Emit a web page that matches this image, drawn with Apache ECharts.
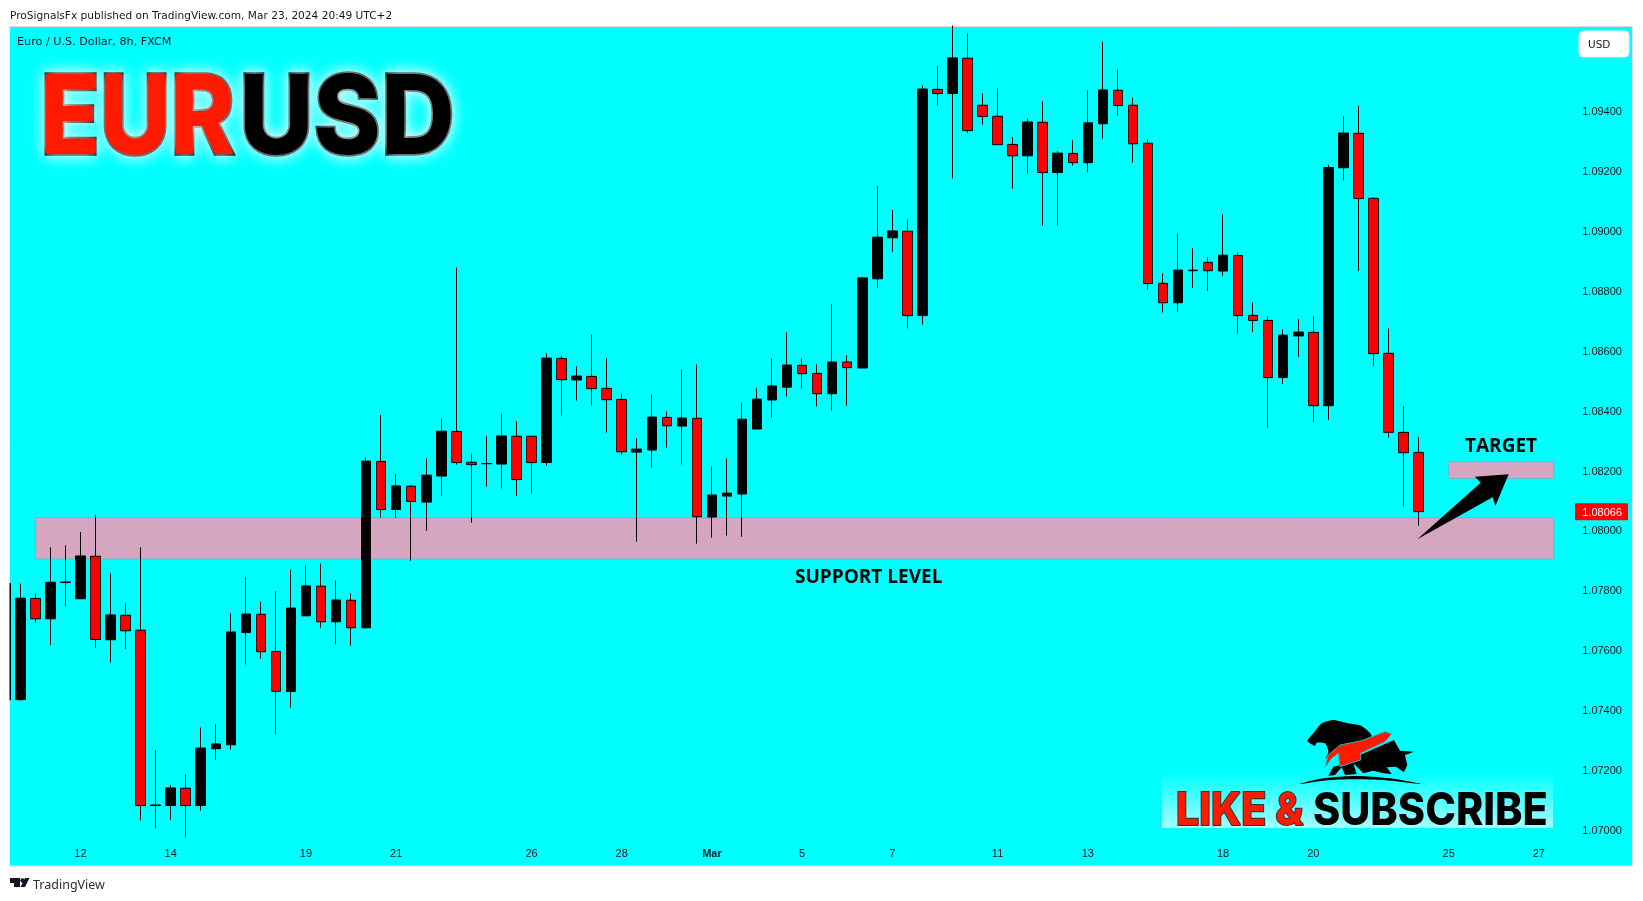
<!DOCTYPE html>
<html><head><meta charset="utf-8"><title>EURUSD</title>
<style>html,body{margin:0;padding:0;background:#fff}#c{width:1643px;height:901px}</style>
<script src="https://cdn.jsdelivr.net/npm/echarts@6/dist/echarts.min.js"></script></head>
<body><div id="c"></div>
<script>
const opens=[1.07437,1.07438,1.07776,1.07708,1.07829,1.07775,1.07917,1.07638,1.07720,1.07670,
1.07084,1.07084,1.07142,1.07084,1.07274,1.07287,1.07662,1.07723,1.07599,1.07465,
1.07718,1.07817,1.07698,1.07770,1.07678,1.08234,1.08073,1.08151,1.08098,1.08185,
1.08334,1.08231,1.08226,1.08225,1.08318,1.08318,1.08230,1.08578,1.08506,1.08518,
1.08478,1.08441,1.08265,1.08272,1.08381,1.08352,1.08378,1.08048,1.08118,1.08125,
1.08342,1.08439,1.08482,1.08555,1.08528,1.08460,1.08566,1.08546,1.08844,1.08981,
1.09003,1.08721,1.09477,1.09463,1.09581,1.09424,1.09387,1.09293,1.09255,1.09367,
1.09199,1.09263,1.09232,1.09362,1.09474,1.09424,1.09297,1.08829,1.08764,1.08871,
1.08899,1.08870,1.08922,1.08722,1.08705,1.08514,1.08653,1.08665,1.08420,1.09215,
1.09330,1.09113,1.08595,1.08331,1.08264];
const closes=[1.07826,1.07777,1.07708,1.07830,1.07831,1.07918,1.07639,1.07721,1.07668,1.07084,
1.07086,1.07143,1.07084,1.07276,1.07290,1.07664,1.07724,1.07598,1.07466,1.07744,
1.07818,1.07698,1.07771,1.07678,1.08235,1.08073,1.08152,1.08100,1.08188,1.08335,
1.08230,1.08223,1.08227,1.08319,1.08173,1.08230,1.08579,1.08507,1.08519,1.08477,
1.08440,1.08266,1.08275,1.08382,1.08353,1.08379,1.08049,1.08122,1.08128,1.08375,
1.08442,1.08486,1.08556,1.08527,1.08460,1.08566,1.08547,1.08847,1.08983,1.09004,
1.08721,1.09478,1.09463,1.09582,1.09339,1.09386,1.09292,1.09255,1.09368,1.09199,
1.09264,1.09232,1.09365,1.09475,1.09423,1.09295,1.08828,1.08764,1.08873,1.08873,
1.08871,1.08923,1.08721,1.08705,1.08514,1.08656,1.08666,1.08420,1.09216,1.09331,
1.09112,1.08594,1.08331,1.08263,1.08066];
const lows=[1.07437,1.07434,1.07695,1.07620,1.07749,1.07775,1.07610,1.07561,1.07607,1.07034,
1.07007,1.07036,1.06977,1.07067,1.07236,1.07271,1.07555,1.07574,1.07321,1.07411,
1.07718,1.07678,1.07622,1.07618,1.07675,1.08046,1.08046,1.07902,1.08002,1.08119,
1.08223,1.08029,1.08149,1.08143,1.08119,1.08126,1.08220,1.08387,1.08437,1.08420,
1.08330,1.08256,1.07966,1.08213,1.08280,1.08223,1.07959,1.07979,1.07986,1.07982,
1.08342,1.08380,1.08450,1.08477,1.08417,1.08403,1.08420,1.08546,1.08814,1.08934,
1.08678,1.08691,1.09423,1.09179,1.09332,1.09359,1.09292,1.09145,1.09195,1.09022,
1.09022,1.09222,1.09199,1.09312,1.09389,1.09232,1.08808,1.08731,1.08734,1.08814,
1.08803,1.08853,1.08660,1.08666,1.08346,1.08492,1.08583,1.08365,1.08372,1.09172,
1.08870,1.08553,1.08313,1.08083,1.08019];
const highs=[1.07826,1.07826,1.07793,1.07947,1.07953,1.07998,1.08055,1.07860,1.07760,1.07947,
1.07270,1.07152,1.07189,1.07345,1.07357,1.07726,1.07848,1.07766,1.07800,1.07873,
1.07887,1.07893,1.07836,1.07793,1.08247,1.08389,1.08192,1.08155,1.08244,1.08378,
1.08882,1.08261,1.08318,1.08394,1.08368,1.08318,1.08595,1.08588,1.08552,1.08658,
1.08578,1.08461,1.08311,1.08458,1.08401,1.08541,1.08558,1.08217,1.08244,1.08431,
1.08478,1.08578,1.08665,1.08578,1.08558,1.08760,1.08589,1.08850,1.09154,1.09074,
1.09043,1.09490,1.09555,1.09690,1.09664,1.09464,1.09480,1.09318,1.09380,1.09437,
1.09271,1.09307,1.09474,1.09637,1.09544,1.09450,1.09310,1.08862,1.08996,1.08946,
1.08916,1.09059,1.08932,1.08765,1.08719,1.08675,1.08709,1.08719,1.09225,1.09387,
1.09423,1.09116,1.08678,1.08419,1.08315];
const tickIndices=[5,11,20,26,35,41,47,53,59,66,72,81,87,96,102];
const tickLabels=['12','14','19','21','26','28','Mar','5','7','11','13','18','20','25','27'];
const priceTicks=[1.07,1.072,1.074,1.076,1.078,1.08,1.082,1.084,1.086,1.088,1.09,1.092,1.094];
const supportZone={from:2,to:103,low:1.07908,high:1.08046};
const targetZone={from:96,to:103,low:1.08177,high:1.08233};
const slotCount=109, slotWidth=15.035;

const categories=[];
for(let i=0;i<slotCount;i++){const k=tickIndices.indexOf(i);categories.push(k>=0?tickLabels[k]:'');}
const candles=opens.map((o,i)=>[o,closes[i],lows[i],highs[i]]);

const CYAN='#00ffff',RED='#ff0000',TITLE_RED='#ff1a00';
const P=(pts,ox,oy,s)=>pts.map(p=>[ox+p[0]/s,oy+p[1]/s]);
const bear=[[52,92],[70,70],[95,40],[130,30],[175,40],[215,48],[245,78],[170,110],[125,128],[105,150],[98,165],[115,125],[105,100],[80,98],[75,108],[60,100]];
const bull=[[115,198],[130,170],[150,165],[210,135],[300,95],[312,90],[330,122],[372,125],[345,135],[352,165],[342,187],[318,170],[290,172],[305,192],[280,190],[250,182],[220,190],[190,160],[200,192],[165,195],[155,172],[135,195]];
const swoosh=[[105,172],[115,135],[150,105],[215,92],[285,65],[305,72],[285,95],[212,130],[212,150],[150,170],[145,130],[125,145]];
const ridge=[[30,222],[100,205],[200,198],[300,205],[392,222],[300,212],[200,208],[100,212]];
const arrow=[[832,1348],[1022,1178],[1005,1160],[1106,1153],[1066,1248],[1058,1222]];

const txt=(text,x,y,font,fill,extra,sx)=>({type:'text',z:60,silent:true,x:x,y:y,scaleX:sx||1,style:Object.assign({text,x:0,y:0,font,fill,textAlign:'left',textVerticalAlign:'middle'},extra||{})});
const glow={stroke:'#000',lineWidth:3.5,lineJoin:'round',textShadowBlur:14,textShadowColor:'#ffffff'};

const chart=echarts.init(document.getElementById('c'),null,{renderer:'canvas'});
chart.setOption({
 animation:false,backgroundColor:'#ffffff',
 grid:{left:5.27-slotWidth/2,top:27,width:slotCount*slotWidth,height:839,containLabel:false,outerBoundsMode:'none'},
 xAxis:{type:'category',data:categories,boundaryGap:true,axisLine:{show:false},axisTick:{show:false},splitLine:{show:false},
  axisLabel:{inside:true,margin:7,interval:0,hideOverlap:false,color:'#131722',fontFamily:'Liberation Sans',fontSize:11,
   formatter:v=>v==='Mar'?'{b|Mar}':v,rich:{b:{fontWeight:'bold',fontFamily:'Liberation Sans',fontSize:11,color:'#131722'}}}},
 yAxis:{type:'value',position:'right',min:1.068821,max:1.096853,axisLine:{show:false},axisTick:{show:false},splitLine:{show:false},
  axisLabel:{inside:true,margin:14.6,padding:[5,0,0,0],customValues:priceTicks,color:'#131722',fontFamily:'Liberation Sans',fontSize:11,formatter:v=>v.toFixed(5)}},
 series:[{type:'candlestick',data:candles,barWidth:10,clip:true,
  itemStyle:{color:'#000000',color0:RED,borderColor:'#000000',borderColor0:'#000000',borderWidth:1},
  markArea:{silent:true,itemStyle:{color:'#d6a5bf',borderColor:'#58c0d6',borderWidth:1},
   data:[[{xAxis:supportZone.from,yAxis:supportZone.high},{xAxis:supportZone.to,yAxis:supportZone.low}],
         [{xAxis:targetZone.from,yAxis:targetZone.high},{xAxis:targetZone.to,yAxis:targetZone.low}]]}}],
 graphic:{elements:[
  {type:'rect',z:-10,silent:true,shape:{x:9.5,y:26.5,width:1623,height:839.5},style:{fill:CYAN,stroke:'#d9dde3',lineWidth:1}},
  {type:'rect',z:50,silent:true,shape:{x:0,y:27,width:9.5,height:839},style:{fill:'#ffffff'}},
  txt('ProSignalsFx published on TradingView.com, Mar 23, 2024 20:49 UTC+2',10,16,'10.6px "DejaVu Sans"','#131722'),
  txt('Euro / U.S. Dollar, 8h, FXCM',17,42.5,'11.2px "DejaVu Sans"','#131722'),
  {type:'rect',z:60,silent:true,shape:{x:1579,y:31,width:50,height:26,r:4},style:{fill:'#fff',stroke:'#e6e8ee',lineWidth:1}},
  txt('USD',1588,45.5,'10.5px "DejaVu Sans"','#131722'),
  txt('EUR',40.4,121,'800 110px Inter',TITLE_RED,glow,0.885),
  txt('USD',239.2,121,'800 110px Inter','#000000',glow,0.929),
  txt('SUPPORT LEVEL',795,578,'bold 19px "Open Sans"','#000'),
  txt('TARGET',1465,447,'bold 19px "Open Sans"','#000'),
  {type:'polygon',z:40,silent:true,shape:{points:P(arrow,1140,90,3)},style:{fill:'#000'}},
  {type:'rect',z:30,silent:true,shape:{x:1162,y:773,width:391,height:55},
   style:{fill:new echarts.graphic.LinearGradient(0,0,0,1,[{offset:0,color:'rgba(255,255,255,0)'},{offset:1,color:'rgba(255,255,255,0.65)'}])}},
  {type:'polygon',z:41,silent:true,shape:{points:P(bear,1290,710,3),smooth:0.2},style:{fill:'#000'}},
  {type:'polygon',z:41,silent:true,shape:{points:P(bull,1290,710,3)},style:{fill:'#000'}},
  {type:'polygon',z:42,silent:true,shape:{points:P(swoosh,1290,710,3)},style:{fill:TITLE_RED,stroke:'#20b8c0',lineWidth:1}},
  {type:'polygon',z:41,silent:true,shape:{points:P(ridge,1290,710,3),smooth:0.3},style:{fill:'#000'}},
  txt('LIKE &',1176,811,'800 45px Inter',TITLE_RED,{stroke:'#1c3a3a',lineWidth:2},0.912),
  txt('SUBSCRIBE',1313,811,'800 45px Inter','#000',null,0.919),
  {type:'polygon',z:60,silent:true,shape:{points:[[10,878],[20,878],[20,887],[14,887],[14,883],[10,883]]},style:{fill:'#131722'}},
  {type:'circle',z:60,silent:true,shape:{cx:22.5,cy:880.5,r:2.2},style:{fill:'#131722'}},
  {type:'polygon',z:60,silent:true,shape:{points:[[25,878],[29.5,878],[25,887],[20.5,887]]},style:{fill:'#131722'}},
  txt('TradingView',33,885,'12.5px "Noto Sans"','#2a2e39')
 ]}
});
const lastClose=closes[closes.length-1];
const ly=chart.convertToPixel({yAxisIndex:0},lastClose);
chart.setOption({graphic:{elements:[
 {id:'lastBox',type:'rect',z:60,silent:true,shape:{x:1575,y:ly-8.5,width:53,height:17,r:1},style:{fill:RED}},
 {id:'lastTxt',type:'text',z:61,silent:true,style:{text:lastClose.toFixed(5),x:1622,y:ly+1,font:'11px "Liberation Sans"',fill:'#fff',textAlign:'right',textVerticalAlign:'middle'}}
]}});
</script></body></html>
